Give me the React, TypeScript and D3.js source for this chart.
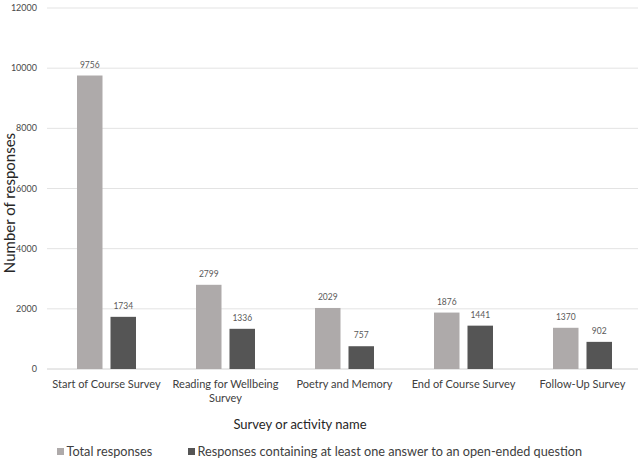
import React, {useRef, useEffect} from 'react'
import * as d3 from 'd3'

const categories = [
  ['Start of Course Survey'],
  ['Reading for Wellbeing', 'Survey'],
  ['Poetry and Memory'],
  ['End of Course Survey'],
  ['Follow-Up Survey'],
]
const totalResponses = [9756, 2799, 2029, 1876, 1370]
const openEnded = [1734, 1336, 757, 1441, 902]
const yTicks = [0, 2000, 4000, 6000, 8000, 10000, 12000]
const seriesNames = [
  'Total responses',
  'Responses containing at least one answer to an open-ended question',
]
const colors = ['#aeaaaa', '#555555']

const W = 640
const H = 463
const FONT = 'Lato, "Open Sans", sans-serif'

function App() {
  const ref = useRef<SVGSVGElement>(null)

  useEffect(() => {
    const svg = d3.select(ref.current)
    svg.selectAll('*').remove()

    const left = 47
    const top = 8
    const bottom = 369

    const x = d3
      .scaleBand<number>()
      .domain(categories.map((_, i) => i))
      .range([left, 642])
    const y = d3.scaleLinear().domain([0, 12000]).range([bottom, top])

    const barW = 25.5
    const gap = 8

    // grid
    svg
      .append('g')
      .selectAll('line')
      .data(yTicks)
      .join('line')
      .attr('x1', left)
      .attr('x2', 638)
      .attr('y1', d => y(d))
      .attr('y2', d => y(d))
      .attr('stroke', d => (d === 0 ? '#d0d0d0' : '#e3e3e3'))
      .attr('stroke-width', 1)

    // y tick labels
    svg
      .append('g')
      .selectAll('text')
      .data(yTicks)
      .join('text')
      .attr('x', 37)
      .attr('y', d => y(d))
      .attr('dy', '0.35em')
      .attr('text-anchor', 'end')
      .attr('font-size', 9)
      .attr('fill', '#4a4a4a')
      .attr('font-family', FONT)
      .text(d => d)

    const series = [totalResponses, openEnded]
    series.forEach((vals, s) => {
      const g = svg.append('g')
      const bx = (i: number) =>
        (x(i) as number) + x.bandwidth() / 2 + (s === 0 ? -gap / 2 - barW : gap / 2)
      g.selectAll('rect')
        .data(vals)
        .join('rect')
        .attr('x', (_, i) => bx(i))
        .attr('y', d => y(d))
        .attr('width', barW)
        .attr('height', d => bottom - y(d))
        .attr('fill', colors[s])
      g.selectAll('text')
        .data(vals)
        .join('text')
        .attr('x', (_, i) => bx(i) + barW / 2)
        .attr('y', d => y(d) - 8)
        .attr('text-anchor', 'middle')
        .attr('font-size', 8.5)
        .attr('fill', '#595959')
        .attr('font-family', FONT)
        .text(d => d)
    })

    // category labels
    const cat = svg.append('g')
    categories.forEach((lines, i) => {
      const t = cat
        .append('text')
        .attr('text-anchor', 'middle')
        .attr('font-size', 11)
        .attr('fill', '#404040')
        .attr('font-family', FONT)
      lines.forEach((ln, j) => {
        t.append('tspan')
          .attr('x', (x(i) as number) + x.bandwidth() / 2)
          .attr('y', 388 + j * 14)
          .text(ln)
      })
    })

    // axis titles
    svg
      .append('text')
      .attr('x', 300)
      .attr('y', 429)
      .attr('text-anchor', 'middle')
      .attr('font-size', 13)
      .attr('fill', '#262626')
      .attr('font-family', FONT)
      .text('Survey or activity name')
    svg
      .append('text')
      .attr('transform', `translate(15,203) rotate(-90)`)
      .attr('text-anchor', 'middle')
      .attr('font-size', 15)
      .attr('fill', '#262626')
      .attr('font-family', FONT)
      .text('Number of responses')

    // legend
    const legX = [57, 188]
    seriesNames.forEach((name, s) => {
      svg
        .append('rect')
        .attr('x', legX[s])
        .attr('y', 448)
        .attr('width', 7)
        .attr('height', 7)
        .attr('fill', colors[s])
      svg
        .append('text')
        .attr('x', legX[s] + 9.5)
        .attr('y', 456)
        .attr('font-size', 12.7)
        .attr('fill', '#404040')
        .attr('font-family', FONT)
        .text(name)
    })
  }, [])

  return (
    <svg
      ref={ref}
      width={W}
      height={H}
      style={{position: 'absolute', left: 0, top: 0, background: '#fff'}}
    />
  )
}

export default App
